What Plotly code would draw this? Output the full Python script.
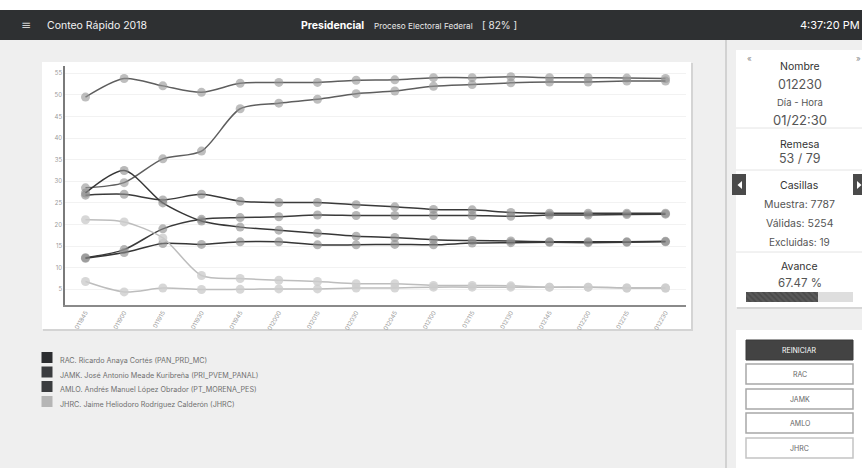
import plotly.graph_objects as go

# ---- data -------------------------------------------------------------
remesas = ["011845", "011900", "011915", "011930", "011945", "012000", "012015", "012030",
           "012045", "012100", "012115", "012130", "012145", "012200", "012215", "012230"]

# upper / lower estimate per candidate (%)
amlo_sup = [49.5, 53.8, 52.1, 50.6, 52.7, 52.9, 52.9, 53.4, 53.5, 54.0, 54.0, 54.2, 54.0, 54.0, 53.9, 53.8]
amlo_inf = [28.5, 29.7, 35.2, 37.0, 46.8, 48.1, 49.0, 50.3, 50.9, 52.0, 52.4, 52.8, 53.0, 53.0, 53.2, 53.2]
rac_sup = [26.8, 27.0, 25.7, 27.0, 25.4, 25.1, 25.1, 24.6, 24.1, 23.5, 23.4, 22.8, 22.6, 22.6, 22.6, 22.6]
rac_inf = [12.3, 14.2, 19.0, 21.2, 21.6, 21.8, 22.2, 22.1, 22.1, 22.1, 22.1, 21.9, 22.2, 22.2, 22.3, 22.4]
jamk_sup = [27.3, 32.5, 25.0, 20.8, 19.4, 18.7, 18.0, 17.3, 17.0, 16.5, 16.3, 16.2, 16.0, 16.0, 16.0, 16.1]
jamk_inf = [12.2, 13.5, 15.6, 15.4, 16.0, 16.0, 15.3, 15.3, 15.4, 15.3, 15.7, 15.8, 15.9, 15.8, 15.9, 16.0]
jhrc_sup = [21.1, 20.6, 16.9, 8.2, 7.5, 7.1, 6.8, 6.3, 6.3, 5.9, 5.9, 5.8, 5.5, 5.5, 5.3, 5.3]
jhrc_inf = [6.8, 4.4, 5.3, 4.95, 5.0, 5.1, 5.1, 5.3, 5.3, 5.5, 5.5, 5.5, 5.5, 5.5, 5.3, 5.3]

candidatos = ["RAC", "JAMK", "AMLO", "JHRC"]
nombres = [
    "RAC. Ricardo Anaya Cortés (PAN_PRD_MC)",
    "JAMK. José Antonio Meade Kuribreña (PRI_PVEM_PANAL)",
    "AMLO. Andrés Manuel López Obrador (PT_MORENA_PES)",
    "JHRC. Jaime Heliodoro Rodríguez Calderón (JHRC)",
]
y_ticks = [5, 10, 15, 20, 25, 30, 35, 40, 45, 50, 55]

nombre_remesa = "012230"
dia_hora = "01/22:30"
remesa_actual, remesa_total = 53, 79
muestra, validas, excluidas = 7787, 5254, 19
avance = 67.47

# ---- styling ----------------------------------------------------------
W, H = 862, 468
FONT = "Inter, Noto Sans, sans-serif"
line_color = {"RAC": "#3a3a3a", "JAMK": "#363636", "AMLO": "#5e5e5e", "JHRC": "#bdbdbd"}
marker_color = {"RAC": "rgba(140,140,140,0.62)", "JAMK": "rgba(140,140,140,0.62)",
                "AMLO": "rgba(150,150,150,0.62)", "JHRC": "rgba(205,205,205,0.8)"}
legend_color = ["#2b2d30", "#3a3c3f", "#3a3c3f", "#b5b5b5"]


def px(x):
    return x / W


def py(y):
    return 1 - y / H


fig = go.Figure()

series = [("AMLO", amlo_sup), ("AMLO", amlo_inf), ("RAC", rac_sup), ("RAC", rac_inf),
          ("JAMK", jamk_sup), ("JAMK", jamk_inf), ("JHRC", jhrc_sup), ("JHRC", jhrc_inf)]
for cand, vals in series:
    fig.add_trace(go.Scatter(
        x=remesas, y=vals, mode="lines+markers", name=cand,
        line=dict(color=line_color[cand], width=1.5, shape="spline", smoothing=0.8),
        marker=dict(size=9, color=marker_color[cand], line=dict(width=0)),
        xaxis="x", yaxis="y", cliponaxis=False,
    ))

# progress bar
fig.add_trace(go.Bar(
    x=[avance], y=["avance"], orientation="h", xaxis="x2", yaxis="y2",
    marker=dict(color="#5a5a5a", line=dict(width=0),
                pattern=dict(shape="\\", fgcolor="#3a3a3a", size=4, solidity=0.45)),
))

shapes = []


def rect(x0, y0, x1, y1, fill, line=None, lw=0, layer="below"):
    shapes.append(dict(type="rect", xref="paper", yref="paper",
                       x0=px(x0), x1=px(x1), y0=py(y1), y1=py(y0),
                       fillcolor=fill, line=dict(color=line or fill, width=lw), layer=layer))


def hline(x0, x1, y, color, w=1):
    shapes.append(dict(type="line", xref="paper", yref="paper",
                       x0=px(x0), x1=px(x1), y0=py(y), y1=py(y),
                       line=dict(color=color, width=w), layer="below"))


# header
rect(0, 0, W, 10, "#ffffff")
rect(0, 10, W, 40, "#2e3032")
# sidebar border
shapes.append(dict(type="line", xref="paper", yref="paper", x0=px(726), x1=px(726), y0=0, y1=py(40),
                   line=dict(color="#d2d2d2", width=2), layer="below"))
# chart card
rect(43, 63, 693, 331, "#d4d4d4")
rect(42, 62, 691, 329, "#ffffff")
# info card
rect(737, 51, 863, 309, "#d6d6d6")
rect(736, 50, 862, 307, "#ffffff")
for yy in (128, 170, 252):
    hline(736, 862, yy, "#e4e4e4")
# arrow buttons
rect(732, 174, 746, 195, "#4a4a4a", layer="above")
rect(853, 174, 867, 195, "#4a4a4a", layer="above")
for path in (f"M{px(742)},{py(181)} L{px(742)},{py(189)} L{px(737.5)},{py(185)} Z",
             f"M{px(857)},{py(181)} L{px(857)},{py(189)} L{px(861.5)},{py(185)} Z"):
    shapes.append(dict(type="path", xref="paper", yref="paper", path=path,
                       fillcolor="#ffffff", line=dict(width=0), layer="above"))
# progress bar track
rect(746, 292, 853, 302, "#dedede")
# buttons card
rect(737, 331, 863, 469, "#d6d6d6")
rect(736, 330, 862, 468, "#ffffff")
rect(746, 340, 853, 360, "#434343", "#3a3a3a", 1)
btn_y = [(364, 384), (389, 409), (413, 433), (438, 458)]
btn_line = ["#a8a8a8", "#a8a8a8", "#a8a8a8", "#c4c4c4"]
for (y0, y1), lc in zip(btn_y, btn_line):
    rect(746, y0, 853, y1, "#ffffff", lc, 1.5)
# legend swatches
leg_y = [357.5, 372, 386.5, 401.5]
for yc, col in zip(leg_y, legend_color):
    rect(41.5, yc - 5.5, 52.5, yc + 5.5, col)

annotations = []


def text(x, y, s, size, color, anchor="left", bold=False, family=FONT):
    annotations.append(dict(xref="paper", yref="paper", x=px(x), y=py(y), text=f"<b>{s}</b>" if bold else s,
                            showarrow=False, xanchor=anchor, yanchor="middle",
                            font=dict(size=size, color=color, family=family)))


# header text
text(19, 25, "≡", 12, "#d0d0d0", family="DejaVu Sans")
text(45, 25, "Conteo Rápido 2018", 10.5, "#f2f2f2")
text(299, 25, "Presidencial", 10.5, "#ffffff", bold=True)
text(372, 25.5, "Proceso Electoral Federal", 8.2, "#e8e8e8")
text(480, 25, "[ 82% ]", 10, "#e8e8e8")
text(862, 25, "4:37:20 PM", 11, "#ffffff", anchor="right")

# info card text
cx = 799.5
text(745, 58, "«", 8, "#888888")
text(854, 58, "»", 8, "#888888")
text(cx, 67, "Nombre", 10.5, "#333333", anchor="center")
text(cx, 84, nombre_remesa, 12.5, "#555555", anchor="center")
text(cx, 102, "Día - Hora", 9.5, "#555555", anchor="center")
text(cx, 120, dia_hora, 13, "#555555", anchor="center")
text(cx, 144, "Remesa", 10.5, "#333333", anchor="center")
text(cx, 158, f"{remesa_actual} / {remesa_total}", 12.5, "#555555", anchor="center")
text(cx, 186, "Casillas", 10.5, "#333333", anchor="center")
text(cx, 204, f"Muestra: {muestra}", 10.5, "#555555", anchor="center")
text(cx, 223, f"Válidas: {validas}", 10.5, "#555555", anchor="center")
text(cx, 242, f"Excluidas: {excluidas}", 10, "#555555", anchor="center")
text(cx, 266, "Avance", 10.5, "#333333", anchor="center")
text(cx, 283, f"{avance:.2f} %", 11.5, "#555555", anchor="center")

# buttons text
text(cx, 350, "REINICIAR", 7, "#ffffff", anchor="center")
for (y0, y1), c in zip(btn_y, candidatos):
    text(cx, (y0 + y1) / 2, c, 7, "#666666", anchor="center")

# legend text
for yc, n in zip(leg_y, nombres):
    text(58, yc + 3, n, 7.2, "#707070")

fig.update_layout(
    width=W, height=H, margin=dict(l=0, r=0, t=0, b=0, pad=0),
    paper_bgcolor="#efefef", plot_bgcolor="rgba(0,0,0,0)",
    showlegend=False, bargap=0,
    shapes=shapes, annotations=annotations,
    font=dict(family=FONT),
    xaxis=dict(domain=[px(65), px(686)], type="category", range=[-0.53, 15.53],
               showgrid=False, zeroline=False, showline=True, linecolor="#8a8a8a", linewidth=1.5,
               tickangle=-60, tickfont=dict(size=6, color="#9a9a9a"), ticks="",
               automargin=False, fixedrange=True),
    yaxis=dict(domain=[py(305), py(66)], range=[1.37, 56.7], tickvals=y_ticks,
               showgrid=True, gridcolor="#f2f2f2", gridwidth=1, zeroline=False,
               showline=True, linecolor="#7a7a7a", linewidth=1.5,
               tickfont=dict(size=6, color="#9a9a9a"), ticks="", automargin=False, fixedrange=True),
    xaxis2=dict(domain=[px(746), px(853)], range=[0, 100], visible=False, anchor="y2", fixedrange=True),
    yaxis2=dict(domain=[py(302), py(292)], visible=False, anchor="x2", fixedrange=True),
)

fig.write_html("out.html")
